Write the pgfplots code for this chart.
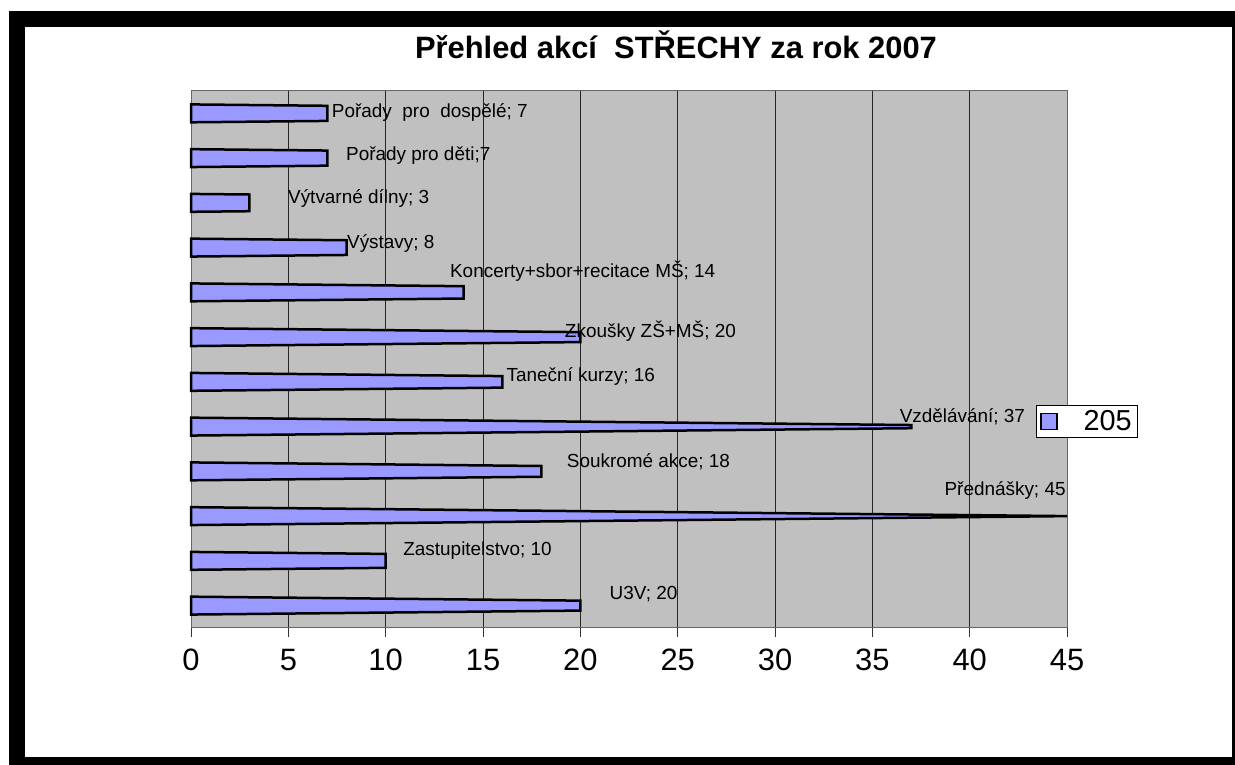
\documentclass[border=0pt]{standalone}
\usepackage{pgfplots}
\pgfplotsset{compat=1.18}
\usepackage{fontspec}
\setmainfont{Liberation Sans}
\definecolor{barcol}{RGB}{153,153,255}
\definecolor{plotbg}{RGB}{192,192,192}
\begin{document}
\begin{tikzpicture}[x=1bp,y=1bp]
\path[use as bounding box] (0,0) rectangle (1235,765);
\fill[white] (0,0) rectangle (1235,765);
\begin{axis}[
  at={(191bp,137bp)}, anchor=south west,
  scale only axis, width=876bp, height=537bp,
  xmin=0, xmax=45, ymin=-0.5, ymax=11.5,
  xtick={0,5,...,45}, ytick=\empty,
  xtick pos=bottom, tick align=outside, major tick length=9bp,
  xtick style={black!80, line width=1bp},
  xmajorgrids, grid style={black!85, line width=1bp},
  axis line style={black!60, line width=1bp},
  axis background/.style={fill=plotbg},
  /pgf/number format/assume math mode=true,
  typeset ticklabels with strut,
  ticklabel style={font=\fontsize{31}{34}\selectfont},
  xticklabel style={yshift=-6bp},
  legend style={at={(0.9646,0.4153)}, anchor=north west, draw=black, line width=0.8bp, fill=white,
    font=\fontsize{29}{32}\selectfont, inner xsep=4bp, inner ysep=3bp},
  legend image code/.code={\draw[fill=barcol, draw=black, line width=1.2bp] (0bp,-8bp) rectangle (16bp,8bp);},
  clip=false,
]
% cone-shaped bars: (0, i +- 0.2) tapering towards a point at 45
\addplot[fill=barcol, draw=black, line width=2.5bp, line join=miter, forget plot] coordinates {(0,-0.2) (20,-0.1111) (20,0.1111) (0,0.2)} -- cycle;
\addplot[fill=barcol, draw=black, line width=2.5bp, line join=miter, forget plot] coordinates {(0,0.8) (10,0.8444) (10,1.1556) (0,1.2)} -- cycle;
\addplot[fill=barcol, draw=black, line width=2.5bp, line join=miter, forget plot] coordinates {(0,1.8) (45,2) (45,2) (0,2.2)} -- cycle;
\addplot[fill=barcol, draw=black, line width=2.5bp, line join=miter, forget plot] coordinates {(0,2.8) (18,2.88) (18,3.12) (0,3.2)} -- cycle;
\addplot[fill=barcol, draw=black, line width=2.5bp, line join=miter, forget plot] coordinates {(0,3.8) (37,3.9644) (37,4.0356) (0,4.2)} -- cycle;
\addplot[fill=barcol, draw=black, line width=2.5bp, line join=miter, forget plot] coordinates {(0,4.8) (16,4.8711) (16,5.1289) (0,5.2)} -- cycle;
\addplot[fill=barcol, draw=black, line width=2.5bp, line join=miter, forget plot] coordinates {(0,5.8) (20,5.8889) (20,6.1111) (0,6.2)} -- cycle;
\addplot[fill=barcol, draw=black, line width=2.5bp, line join=miter, forget plot] coordinates {(0,6.8) (14,6.8622) (14,7.1378) (0,7.2)} -- cycle;
\addplot[fill=barcol, draw=black, line width=2.5bp, line join=miter, forget plot] coordinates {(0,7.8) (8,7.8356) (8,8.1644) (0,8.2)} -- cycle;
\addplot[fill=barcol, draw=black, line width=2.5bp, line join=miter, forget plot] coordinates {(0,8.8) (3,8.8133) (3,9.1867) (0,9.2)} -- cycle;
\addplot[fill=barcol, draw=black, line width=2.5bp, line join=miter, forget plot] coordinates {(0,9.8) (7,9.8311) (7,10.1689) (0,10.2)} -- cycle;
\addplot[fill=barcol, draw=black, line width=2.5bp, line join=miter, forget plot] coordinates {(0,10.8) (7,10.8311) (7,11.1689) (0,11.2)} -- cycle;
\addlegendimage{fill=barcol}
\addlegendentry{\hspace{24bp}205\hspace{10bp}}
\begin{scope}[every node/.style={anchor=west, inner sep=0pt, font=\fontsize{19}{22}\selectfont}]
\node at (axis cs:7.23,11.03) {Pořady\ \ pro\ \ dospělé; 7};
\node at (axis cs:7.96,10.05) {Pořady pro děti;7};
\node at (axis cs:4.98,9.09) {Výtvarné dílny; 3};
\node at (axis cs:8.01,8.10) {Výstavy; 8};
\node at (axis cs:13.3,7.48) {Koncerty+sbor+recitace MŠ; 14};
\node at (axis cs:19.2,6.14) {Zkoušky ZŠ+MŠ; 20};
\node at (axis cs:16.2,5.13) {Taneční kurzy; 16};
\node at (axis cs:36.4,4.22) {Vzdělávání; 37};
\node at (axis cs:19.3,3.21) {Soukromé akce; 18};
\node at (axis cs:38.7,2.58) {Přednášky; 45};
\node at (axis cs:10.9,1.24) {Zastupitelstvo; 10};
\node at (axis cs:21.5,0.26) {U3V; 20};
\end{scope}
\end{axis}
\node[font=\fontsize{31}{34}\selectfont\bfseries] at (676,720) {Přehled akcí\ \ STŘECHY za rok 2007};
\draw[line width=16bp] (17,0) rectangle (1240,746);
\end{tikzpicture}
\end{document}
